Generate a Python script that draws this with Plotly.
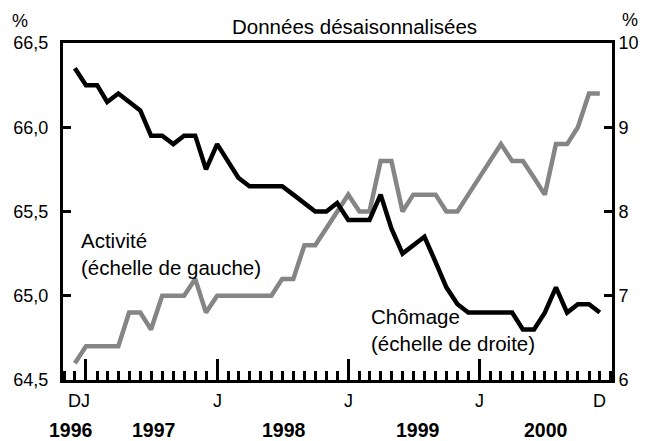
import plotly.graph_objects as go
import pandas as pd

# Monthly data, Dec 1996 - Dec 2000
months = pd.date_range("1996-12-01", "2000-12-01", freq="MS").strftime("%Y-%m-%d").tolist()

# Chômage (right scale, %)
chomage = [9.7, 9.5, 9.5, 9.3, 9.4, 9.3, 9.2, 8.9, 8.9, 8.8, 8.9, 8.9, 8.5,
           8.8, 8.6, 8.4, 8.3, 8.3, 8.3, 8.3, 8.2, 8.1, 8.0, 8.0, 8.1,
           7.9, 7.9, 7.9, 8.2, 7.8, 7.5, 7.6, 7.7, 7.4, 7.1, 6.9, 6.8,
           6.8, 6.8, 6.8, 6.8, 6.6, 6.6, 6.8, 7.1, 6.8, 6.9, 6.9, 6.8]

# Activité (left scale, %)
activite = [64.6, 64.7, 64.7, 64.7, 64.7, 64.9, 64.9, 64.8, 65.0, 65.0, 65.0, 65.1, 64.9,
            65.0, 65.0, 65.0, 65.0, 65.0, 65.0, 65.1, 65.1, 65.3, 65.3, 65.4, 65.5,
            65.6, 65.5, 65.5, 65.8, 65.8, 65.5, 65.6, 65.6, 65.6, 65.5, 65.5, 65.6,
            65.7, 65.8, 65.9, 65.8, 65.8, 65.7, 65.6, 65.9, 65.9, 66.0, 66.2, 66.2]

left_ticks = [64.5, 65.0, 65.5, 66.0, 66.5]
left_ticktext = ["64,5", "65,0", "65,5", "66,0", "66,5"]
right_ticks = [6, 7, 8, 9, 10]
right_ticktext = ["6", "7", "8", "9", "10"]

january_ticks = ["1997-01-01", "1998-01-01", "1999-01-01", "2000-01-01"]
month_label_pos = ["1996-12-01", "1997-01-01", "1998-01-01", "1999-01-01", "2000-01-01", "2000-12-01"]
month_label_text = ["D", "J", "J", "J", "J", "D"]
year_labels = ["1996", "1997", "1998", "1999", "2000"]
year_label_x = [0.0146, 0.164, 0.4026, 0.6466, 0.8798]

FONT = "Liberation Sans, Arial, sans-serif"

fig = go.Figure()
fig.add_trace(go.Scatter(x=months, y=activite, mode="lines", yaxis="y",
                         line=dict(color="#858585", width=4.5), showlegend=False))
fig.add_trace(go.Scatter(x=months, y=chomage, mode="lines", yaxis="y2",
                         line=dict(color="#000000", width=4.5), showlegend=False))

# the page body adds an 8px margin, so the figure is sized to fit the window
fig.update_layout(
    width=639, height=433,
    margin=dict(l=55, r=35, t=35, b=61, autoexpand=False),
    paper_bgcolor="white", plot_bgcolor="white",
    font=dict(family=FONT, size=18, color="black"),
    xaxis=dict(
        type="date", automargin=False,
        range=["1996-10-29", "2001-01-04"],
        tickmode="array", tickvals=january_ticks, showticklabels=False,
        ticks="inside", ticklen=21, tickwidth=2.5, tickcolor="black",
        minor=dict(dtick="M1", tick0="1996-12-01", ticks="inside", ticklen=9,
                   tickwidth=2.5, tickcolor="black", showgrid=False),
        showline=True, linewidth=3, linecolor="black", mirror=True,
        showgrid=False, zeroline=False,
    ),
    yaxis=dict(
        automargin=False,
        range=[64.5, 66.5], tickmode="array", tickvals=left_ticks, ticktext=left_ticktext,
        ticks="inside", ticklen=8, tickwidth=2.5, tickcolor="black",
        showline=True, linewidth=3, linecolor="black", ticklabelstandoff=8,
        showgrid=False, zeroline=False, tickfont=dict(size=18),
    ),
    yaxis2=dict(
        automargin=False,
        range=[6, 10], overlaying="y", side="right",
        tickmode="array", tickvals=right_ticks, ticktext=right_ticktext,
        ticks="inside", ticklen=8, tickwidth=2.5, tickcolor="black",
        showline=True, linewidth=3, linecolor="black",
        showgrid=False, zeroline=False, tickfont=dict(size=18),
    ),
)

ann = [
    dict(text="Données désaisonnalisées", xref="paper", yref="paper", x=0.531, y=1.0,
         yanchor="bottom", yshift=3, showarrow=False, font=dict(size=20.5)),
    dict(text="%", xref="paper", yref="paper", x=-0.078, y=1.0, xanchor="center",
         yanchor="bottom", yshift=10, showarrow=False, font=dict(size=18)),
    dict(text="%", xref="paper", yref="paper", x=1.033, y=1.0, xanchor="center",
         yanchor="bottom", yshift=11, showarrow=False, font=dict(size=18)),
    dict(text="Activité", xref="paper", yref="paper", x=0.03, y=0.415, xanchor="left",
         yanchor="middle", showarrow=False, font=dict(size=20.5)),
    dict(text="(échelle de gauche)", xref="paper", yref="paper", x=0.03, y=0.335,
         xanchor="left", yanchor="middle", showarrow=False, font=dict(size=20.5)),
    dict(text="Chômage", xref="paper", yref="paper", x=0.557, y=0.187, xanchor="left",
         yanchor="middle", showarrow=False, font=dict(size=20.5)),
    dict(text="(échelle de droite)", xref="paper", yref="paper", x=0.557, y=0.107,
         xanchor="left", yanchor="middle", showarrow=False, font=dict(size=20.5)),
]
for pos, txt in zip(month_label_pos, month_label_text):
    ann.append(dict(text=txt, x=pos, xref="x", y=-0.062, yref="paper", xanchor="center",
                    yanchor="middle", showarrow=False, font=dict(size=18)))
for xp, txt in zip(year_label_x, year_labels):
    ann.append(dict(text="<b>" + txt + "</b>", x=xp, xref="paper", y=-0.148, yref="paper",
                    xanchor="center", yanchor="middle", showarrow=False, font=dict(size=19.5)))
fig.update_layout(annotations=ann)

fig.write_html("out.html")
